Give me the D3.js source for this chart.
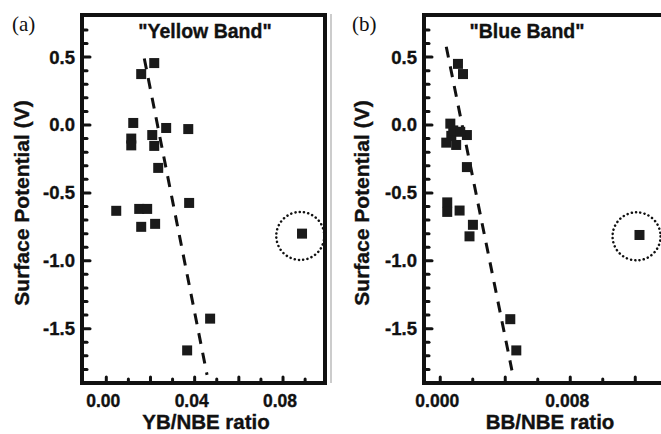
<!DOCTYPE html>
<html><head><meta charset="utf-8">
<script src="https://cdn.jsdelivr.net/npm/d3@7"></script>
<style>body{margin:0;background:#fff}svg{display:block}</style>
</head><body><svg id="c" width="661" height="434"></svg>
<script>
// ---- data ----
const ybRatio = [0.0217,0.0158,0.0122,0.0113,0.0113,0.0208,0.0217,0.0271,0.0371,0.0235,0.0375,0.0045,0.0149,0.0185,0.0158,0.0221,0.0886,0.0470,0.0366];
const ybPotential = [0.456,0.375,0.015,-0.10,-0.15,-0.074,-0.154,-0.022,-0.03,-0.316,-0.574,-0.632,-0.618,-0.618,-0.75,-0.728,-0.80,-1.426,-1.66];
const bbRatio = [0.00109,0.00140,0.00062,0.00068,0.00164,0.00098,0.00080,0.00123,0.00037,0.00164,0.00043,0.00043,0.00119,0.00201,0.00180,0.00431,0.00468,0.01226];
const bbPotential = [0.45,0.375,0.01,-0.08,-0.074,-0.147,-0.04,-0.05,-0.13,-0.31,-0.57,-0.64,-0.63,-0.735,-0.82,-1.43,-1.66,-0.81];
const ybFit = {x:[0.0172,0.0456], y:[0.49,-1.84]};
const bbFit = {x:[0.00037,0.00441], y:[0.576,-1.807]};
const ybOutlier = [0.0878,-0.817];
const bbOutlier = [0.01208,-0.82];
const yTickLabels = [0.5,0.0,-0.5,-1.0,-1.5];
const ybTickLabels = [0.00,0.04,0.08];
const bbTickLabels = [0.000,0.008];

const svg = d3.select("#c");
const FONT = "'Liberation Sans', Arial, sans-serif";
function boldText(sel){ return sel.attr("font-family",FONT).attr("font-weight","bold").attr("fill","#111")
  .attr("stroke","#111").attr("stroke-width",0.35); }

function panel(o){
  const g = svg.append("g");
  const x = d3.scaleLinear().domain(o.xd).range([o.x0,o.x1]);
  const y = d3.scaleLinear().domain([-1.9,0.81]).range([383,15]);
  const yMinor = d3.range(-19,9).map(d=>d/10);
  yMinor.forEach(v=>{
    const major = Math.abs(Math.round(v*10)%5)===0;
    const yy = y(v);
    if (yy<18||yy>380) return;
    g.append("line").attr("x1",o.x0).attr("x2",o.x0+(major?8:5)).attr("y1",yy).attr("y2",yy)
     .attr("stroke","#111").attr("stroke-width",3).attr("stroke-linecap","round");
  });
  yTickLabels.forEach(v=>{
    boldText(g.append("text")).attr("x",o.x0-7).attr("y",y(v)+6.5).attr("text-anchor","end")
     .attr("font-size",18.5).text(v.toFixed(1));
  });
  o.xMinor.forEach(v=>{
    const xx = x(v);
    if (xx<o.x0+5||xx>659) return;
    const major = o.xMajor.some(m=>Math.abs(m-v)<1e-9);
    g.append("line").attr("x1",xx).attr("x2",xx).attr("y1",383).attr("y2",383-(major?6:4))
     .attr("stroke","#111").attr("stroke-width",3).attr("stroke-linecap","round");
  });
  o.xLabels.forEach(v=>{
    boldText(g.append("text")).attr("x",x(v)-3).attr("y",407).attr("text-anchor","middle")
     .attr("font-size",17.5).text(v.toFixed(o.dec));
  });
  g.append("rect").attr("x",o.x0).attr("y",15).attr("width",o.x1-o.x0).attr("height",368)
   .attr("fill","none").attr("stroke","#111").attr("stroke-width",4);
  const line = d3.line().x(d=>x(d[0])).y(d=>y(d[1]));
  g.append("path").attr("d",line(d3.zip(o.fit.x,o.fit.y))).attr("fill","none")
   .attr("stroke","#111").attr("stroke-width",3).attr("stroke-dasharray","11,9");
  g.selectAll(null).data(d3.zip(o.xs,o.ys)).join("rect")
   .attr("x",d=>x(d[0])-5).attr("y",d=>y(d[1])-5).attr("width",10).attr("height",10).attr("fill","#1a1a1a");
  g.append("circle").attr("cx",x(o.out[0])).attr("cy",y(o.out[1])).attr("r",24)
   .attr("fill","none").attr("stroke","#111").attr("stroke-width",2.5)
   .attr("stroke-dasharray","0.1,4.2").attr("stroke-linecap","round");
  boldText(g.append("text")).attr("x",o.tx).attr("y",38).attr("text-anchor","middle")
   .attr("font-size",19.5).text(o.title);
  g.append("text").attr("x",o.lx).attr("y",31)
   .attr("font-family","'Liberation Serif', 'Times New Roman', serif").attr("font-size",21).attr("fill","#111").text(o.letter);
  boldText(g.append("text")).attr("x",o.xtx).attr("y",429).attr("text-anchor","middle")
   .attr("font-size",20.5).text(o.xTitle);
  boldText(g.append("text")).attr("transform",`translate(${o.ytx},203) rotate(-90)`).attr("text-anchor","middle")
   .attr("font-size",21).text("Surface Potential (V)");
}

panel({x0:82,x1:325,xd:[-0.011,0.099],xs:ybRatio,ys:ybPotential,fit:ybFit,out:ybOutlier,
  xMinor:d3.range(0,10).map(d=>d/100), xMajor:[0,0.02,0.04,0.06,0.08], xLabels:ybTickLabels, dec:2,
  title:'"Yellow Band"', tx:205, letter:"(a)", lx:12, xTitle:"YB/NBE ratio", xtx:206, ytx:29});
panel({x0:424,x1:663.7,xd:[-0.001,0.01375],xs:bbRatio,ys:bbPotential,fit:bbFit,out:bbOutlier,
  xMinor:d3.range(0,8).map(d=>d*0.002), xMajor:[0,0.004,0.008,0.012], xLabels:bbTickLabels, dec:3,
  title:'"Blue Band"', tx:527, letter:"(b)", lx:352, xTitle:"BB/NBE ratio", xtx:550, ytx:369});
svg.append("line").attr("x1",331).attr("x2",331).attr("y1",14).attr("y2",383).attr("stroke","#999").attr("stroke-width",1);
</script></body></html>
